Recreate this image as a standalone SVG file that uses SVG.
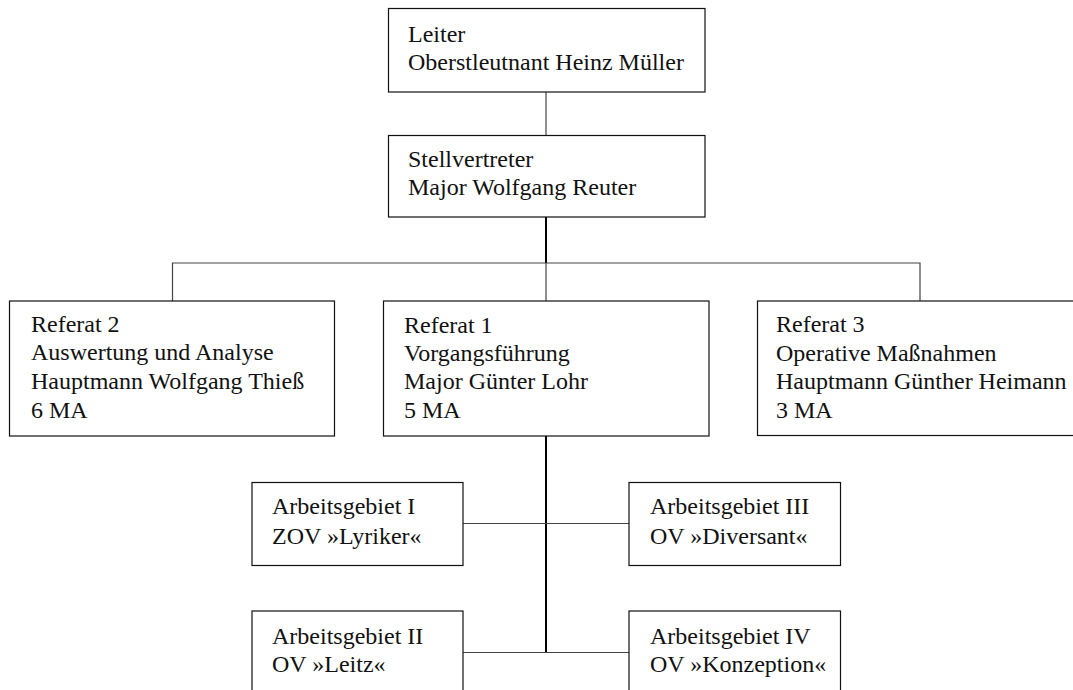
<svg xmlns="http://www.w3.org/2000/svg" width="1073" height="690" viewBox="0 0 1073 690">
<style>
.box{fill:#fff;stroke:#111;stroke-width:1.2}
.t{font-family:"Liberation Serif","Times New Roman",serif;font-size:24px;fill:#111}
.c{stroke:#444;stroke-width:1.2;fill:none}
.cm{stroke:#000;stroke-width:2;fill:none}
</style>
<rect width="1073" height="690" fill="#fff"/>
<g id="connectors">
<line class="c" x1="546" y1="92" x2="546" y2="135"/>
<line class="cm" x1="546" y1="217" x2="546" y2="263"/>
<polyline class="c" points="172.5,301 172.5,263 920,263 920,301"/>
<line class="c" x1="546" y1="263" x2="546" y2="301"/>
<line class="cm" x1="546" y1="436" x2="546" y2="652"/>
<line class="c" x1="463" y1="523.5" x2="629" y2="523.5"/>
<line class="c" x1="463" y1="652.5" x2="629" y2="652.5"/>
</g>
<g id="leiter">
<rect class="box" x="388.5" y="8.5" width="316.5" height="83.5"/>
<text class="t" x="408" y="41.5">Leiter</text>
<text class="t" x="408" y="70">Oberstleutnant Heinz Müller</text>
</g>
<g id="stellvertreter">
<rect class="box" x="388.5" y="135.5" width="316.5" height="81.5"/>
<text class="t" x="408" y="166.5">Stellvertreter</text>
<text class="t" x="408" y="195">Major Wolfgang Reuter</text>
</g>
<g id="referat2">
<rect class="box" x="9.5" y="301" width="325" height="135"/>
<text class="t" x="31" y="331.5">Referat 2</text>
<text class="t" x="31" y="360">Auswertung und Analyse</text>
<text class="t" x="31" y="388.5">Hauptmann Wolfgang Thieß</text>
<text class="t" x="31" y="418">6 MA</text>
</g>
<g id="referat1">
<rect class="box" x="383.5" y="301" width="325.5" height="135"/>
<text class="t" x="404" y="332.5">Referat 1</text>
<text class="t" x="404" y="361">Vorgangsführung</text>
<text class="t" x="404" y="389">Major Günter Lohr</text>
<text class="t" x="404" y="418">5 MA</text>
</g>
<g id="referat3">
<rect class="box" x="757.5" y="301" width="330" height="134.5"/>
<text class="t" x="776" y="332">Referat 3</text>
<text class="t" x="776" y="360.5">Operative Maßnahmen</text>
<text class="t" x="776" y="389">Hauptmann Günther Heimann</text>
<text class="t" x="776" y="418">3 MA</text>
</g>
<g id="ag1">
<rect class="box" x="252" y="482.5" width="211" height="83"/>
<text class="t" x="272" y="514">Arbeitsgebiet I</text>
<text class="t" x="272" y="543.5">ZOV »Lyriker«</text>
</g>
<g id="ag3">
<rect class="box" x="629" y="482.5" width="211.5" height="83"/>
<text class="t" x="650" y="514">Arbeitsgebiet III</text>
<text class="t" x="650" y="543.5">OV »Diversant«</text>
</g>
<g id="ag2">
<rect class="box" x="252" y="611" width="211" height="100"/>
<text class="t" x="272" y="643.5">Arbeitsgebiet II</text>
<text class="t" x="272" y="672">OV »Leitz«</text>
</g>
<g id="ag4">
<rect class="box" x="629" y="611" width="211.5" height="100"/>
<text class="t" x="650" y="643.5">Arbeitsgebiet IV</text>
<text class="t" x="650" y="672">OV »Konzeption«</text>
</g>
</svg>
